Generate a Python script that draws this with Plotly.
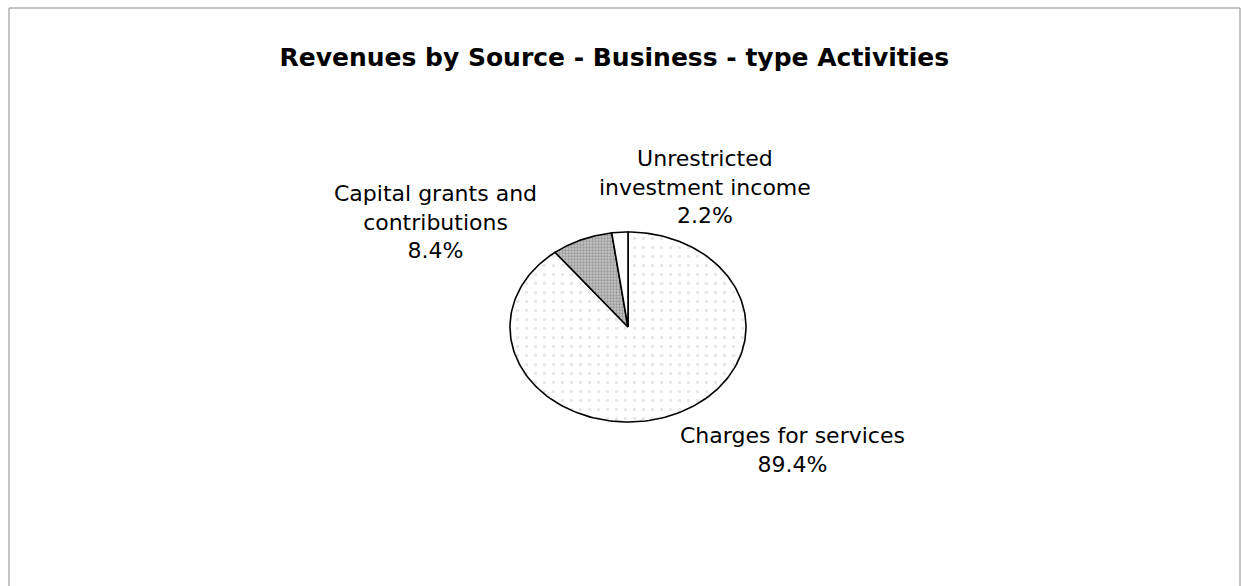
import numpy as np
import plotly.graph_objects as go

# slice data (clockwise from 12 o'clock)
labels = ["Charges for services", "Capital grants and<br>contributions", "Unrestricted<br>investment income"]
values = [89.4, 8.4, 2.2]
fill_colors = ["white", "#c4c4c4", "white"]
pattern_fg = ["#cfcfcf", "#6a6a6a", "white"]
pattern_size = [9, 3, 8]
pattern_solid = [0.12, 0.45, 0.0]

# label placement (pixel coords of the page)
label_x = [792, 435, 705]
label_y = [450, 222, 187]

W, H = 1241, 586
cx, cy, rx, ry = 628, 327, 118, 95
FONT = "DejaVu Sans, Liberation Sans, Arial, sans-serif"

fig = go.Figure()

frac = np.array(values) / sum(values)
edges = np.concatenate([[0], np.cumsum(frac)]) * 2 * np.pi
for i in range(len(values)):
    th = np.linspace(edges[i], edges[i + 1], 200)
    xs = np.concatenate([[cx], cx + rx * np.sin(th), [cx]])
    ys = np.concatenate([[cy], cy - ry * np.cos(th), [cy]])
    fig.add_trace(go.Scatter(
        x=xs, y=ys, mode="lines", fill="toself",
        fillcolor=fill_colors[i],
        fillpattern=dict(shape=".", fgcolor=pattern_fg[i], bgcolor=fill_colors[i],
                         size=pattern_size[i], solidity=pattern_solid[i]),
        line=dict(color="black", width=1.6),
        hoverinfo="skip", showlegend=False,
    ))
    fig.add_annotation(
        x=label_x[i], y=label_y[i], xref="x", yref="y",
        text=labels[i] + "<br>" + f"{values[i]:.1f}%",
        showarrow=False, align="center",
        font=dict(family=FONT, size=22, color="black"),
    )

fig.add_shape(type="rect", x0=9, y0=8, x1=1240, y1=600, xref="x", yref="y",
              line=dict(color="#8a8a8a", width=1), layer="below")

fig.update_layout(
    width=W, height=H,
    margin=dict(l=0, r=0, t=0, b=0),
    paper_bgcolor="white", plot_bgcolor="white",
    title=dict(text="<b>Revenues by Source - Business - type Activities</b>",
               x=0.495, y=0.902, xanchor="center", yanchor="middle",
               font=dict(family=FONT, size=25, color="black")),
    xaxis=dict(range=[0, W], visible=False, fixedrange=True),
    yaxis=dict(range=[H, 0], visible=False, fixedrange=True),
)

fig.write_html("out.html", config={"displayModeBar": False},
               post_script="document.body.style.margin='0px';")
